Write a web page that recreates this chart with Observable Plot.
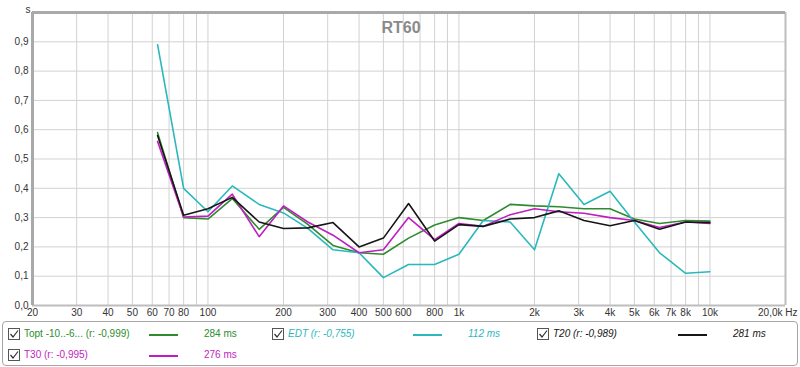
<!DOCTYPE html>
<html><head><meta charset="utf-8">
<script src="https://cdn.jsdelivr.net/npm/d3@7"></script>
<script src="https://cdn.jsdelivr.net/npm/@observablehq/plot@0.6"></script>
<style>
body{margin:0;background:#fff;font-family:"Liberation Sans",Arial,sans-serif;}
#wrap{position:relative;width:800px;height:367px;overflow:hidden;background:#fff}
#chart svg{display:block}
#legend{position:absolute;left:2px;top:321px;width:796px;height:45px;border:1px solid #a6a6a6;border-radius:4px;box-sizing:border-box}
.it{position:absolute;font-size:10px;line-height:12px;white-space:nowrap}
.cb{position:absolute;width:12px;height:12px}
.sw{position:absolute;height:2px;width:29px}
</style>
</head><body>
<div id="wrap"><div id="chart"></div><div id="legend"></div></div>
<script>
// Third-octave band centre frequencies (Hz)
const freqs = [63,80,100,125,160,200,250,315,400,500,630,800,1000,1250,1600,2000,2500,3150,4000,5000,6300,8000,10000];
// RT60 values in seconds
const topt = [0.59,0.30,0.295,0.365,0.26,0.335,0.277,0.205,0.18,0.175,0.23,0.275,0.30,0.29,0.345,0.34,0.337,0.33,0.33,0.295,0.28,0.29,0.288];
const edt  = [0.89,0.40,0.32,0.408,0.345,0.316,0.263,0.19,0.18,0.095,0.14,0.14,0.175,0.29,0.285,0.19,0.45,0.345,0.39,0.285,0.18,0.11,0.115];
const t20  = [0.58,0.308,0.33,0.369,0.285,0.263,0.265,0.283,0.20,0.23,0.348,0.22,0.276,0.27,0.295,0.30,0.323,0.29,0.272,0.29,0.26,0.285,0.283];
const t30  = [0.56,0.302,0.305,0.38,0.235,0.34,0.285,0.24,0.18,0.19,0.30,0.225,0.28,0.27,0.31,0.33,0.32,0.315,0.30,0.29,0.266,0.285,0.28];

const seriesNames = ["Topt", "EDT", "T30", "T20"];
const seriesValues = [topt, edt, t30, t20];
const seriesColors = ["#2e8b2e", "#2bb8bd", "#c01ec0", "#161616"];

// Axis ticks
const xTicks = [20,30,40,50,60,70,80,100,200,300,400,500,600,800,1000,2000,3000,4000,5000,6000,7000,8000,10000];
const xTickLabels = ["20","30","40","50","60","70","80","100","200","300","400","500","600","800","1k","2k","3k","4k","5k","6k","7k","8k","10k"];
const xEndTick = [20000];
const xEndLabel = ["20,0k Hz"];
const xGrid = [30,40,50,60,70,80,90,100,200,300,400,500,600,700,800,900,1000,2000,3000,4000,5000,6000,7000,8000,9000,10000];
const yTicks = [0,0.1,0.2,0.3,0.4,0.5,0.6,0.7,0.8,0.9];
const yTickLabels = ["0,0","0,1","0,2","0,3","0,4","0,5","0,6","0,7","0,8","0,9"];
const yGrid = [0.1,0.2,0.3,0.4,0.5,0.6,0.7,0.8,0.9];

// Legend
const legendLabels = ["Topt -10..-6... (r: -0,999)", "EDT (r: -0,755)", "T20 (r: -0,989)", "T30 (r: -0,995)"];
const legendValues = ["284 ms", "112 ms", "281 ms", "276 ms"];
const legendColors = ["#2e8b2e", "#2bb8bd", "#161616", "#c01ec0"];
const legendItalic = [false, true, true, false];

const data = seriesNames.flatMap((s, i) => freqs.map((f, j) => ({s, f, v: seriesValues[i][j]})));

const plot = Plot.plot({
  width: 800, height: 322,
  marginLeft: 32, marginRight: 15, marginTop: 12, marginBottom: 17,
  style: {fontFamily: "'Liberation Sans', Arial, sans-serif", fontSize: "10px", color: "#333", background: "#fff"},
  x: {type: "log", domain: [20, 20000], axis: null},
  y: {domain: [0, 1], axis: null},
  color: {domain: seriesNames, range: seriesColors},
  marks: [
    Plot.ruleX(xGrid, {stroke: "#d2d2d2", strokeWidth: 1}),
    Plot.ruleY(yGrid, {stroke: "#d2d2d2", strokeWidth: 1}),
    Plot.ruleX([20000], {stroke: "#bdbdbd", strokeWidth: 2}),
    Plot.ruleY([0], {stroke: "#bdbdbd", strokeWidth: 2}),
    Plot.ruleX([20], {stroke: "#a9a9a9", strokeWidth: 3}),
    Plot.ruleY([1], {stroke: "#a9a9a9", strokeWidth: 3}),
    Plot.text(xTicks, {x: d => d, text: (d, i) => xTickLabels[i], frameAnchor: "bottom", dy: 10, fill: "#333"}),
    Plot.text(xEndTick, {x: d => d, text: (d, i) => xEndLabel[i], frameAnchor: "bottom", dy: 10, dx: 12, textAnchor: "end", fill: "#333"}),
    Plot.text(yTicks, {y: d => d, text: (d, i) => yTickLabels[i], frameAnchor: "left", dx: -4, textAnchor: "end", fill: "#333"}),
    Plot.text(["s"], {frameAnchor: "top-left", dx: -7, dy: -7, fill: "#333"}),
    Plot.text(["RT60"], {frameAnchor: "top", dx: -8, dy: 9, fontSize: 16, fontWeight: "bold", fill: "#8a8a8a"}),
    Plot.line(data, {x: "f", y: "v", z: "s", stroke: "s", strokeWidth: 1.6})
  ]
});
document.getElementById("chart").appendChild(plot);

// legend (HTML below the SVG)
const leg = document.getElementById("legend");
const colX = [5, 269, 534, 5];
const rowY = [5, 5, 5, 26];
legendLabels.forEach((lab, i) => {
  const x = colX[i], y = rowY[i];
  const cb = document.createElementNS("http://www.w3.org/2000/svg", "svg");
  cb.setAttribute("class", "cb");
  cb.setAttribute("width", 12); cb.setAttribute("height", 12);
  cb.style.left = x + "px"; cb.style.top = (y + 1) + "px";
  cb.innerHTML = '<rect x="0.5" y="0.5" width="11" height="11" fill="#fff" stroke="#555"/><polyline points="2.5,6 5,9 10,2.5" fill="none" stroke="#333" stroke-width="1.2"/>';
  leg.appendChild(cb);
  const t = document.createElement("div");
  t.className = "it"; t.textContent = lab;
  t.style.left = (x + 16) + "px"; t.style.top = (y + 1) + "px";
  t.style.color = legendColors[i];
  if (legendItalic[i]) t.style.fontStyle = "italic";
  leg.appendChild(t);
  const sw = document.createElement("div");
  sw.className = "sw"; sw.style.background = legendColors[i];
  sw.style.left = (x + 141) + "px"; sw.style.top = (y + 7) + "px";
  leg.appendChild(sw);
  const v = document.createElement("div");
  v.className = "it"; v.textContent = legendValues[i];
  v.style.left = (x + 196) + "px"; v.style.top = (y + 1) + "px";
  v.style.color = legendColors[i];
  if (legendItalic[i]) v.style.fontStyle = "italic";
  leg.appendChild(v);
});
</script>
</body></html>
